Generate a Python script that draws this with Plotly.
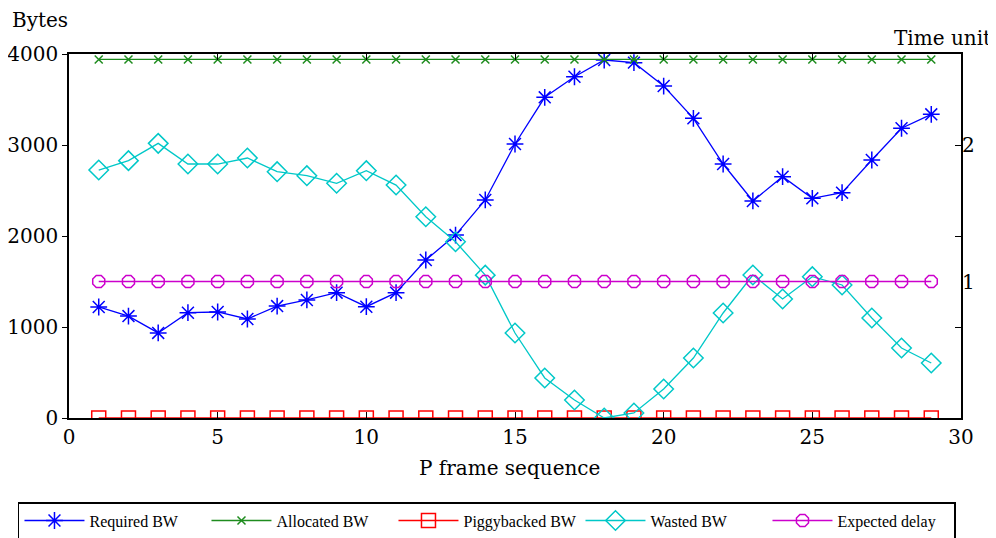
import plotly.graph_objects as go

frames = list(range(1, 30))
required_bw = [1220, 1120, 935, 1157, 1165, 1088, 1230, 1297, 1377, 1223, 1377, 1736, 2010,
               2396, 3011, 3524, 3750, 3934, 3905, 3648, 3293, 2791, 2385, 2652, 2414, 2476,
               2835, 3184, 3337]
allocated_bw = [3940] * 29
piggybacked_bw = [0] * 29
wasted_bw = [2725, 2828, 3018, 2791, 2791, 2857, 2707, 2663, 2579, 2718, 2560, 2212, 1937,
             1570, 934, 440, 198, 0, 55, 319, 659, 1154, 1571, 1308, 1553, 1462, 1099, 769, 604]
expected_delay = [1] * 29

x_ticks = [0, 5, 10, 15, 20, 25, 30]
y_ticks = [0, 1000, 2000, 3000, 4000]
y2_ticks = [1, 2]

SERIF = "DejaVu Serif"
LEG = "Liberation Serif"

fig = go.Figure()

def add(name, y, color, symbol, size, axis="y"):
    fig.add_trace(go.Scatter(
        x=frames, y=y, name=name, mode="lines+markers", yaxis=axis,
        line=dict(color=color, width=1.3),
        marker=dict(symbol=symbol, size=size, color=color, line=dict(color=color, width=1.5)),
    ))

add("Required BW", required_bw, "#0000FF", "asterisk-open", 14)
add("Allocated BW", allocated_bw, "#1E8C1E", "x-thin-open", 8)
add("Piggybacked BW", piggybacked_bw, "#FF0000", "square-open", 14)
add("Wasted BW", wasted_bw, "#00C8C8", "diamond-open", 15)
add("Expected delay", expected_delay, "#CC00CC", "octagon-open", 13, axis="y2")

# page body has an 8px margin, so the figure is shifted by 8px right/down
fig.update_layout(
    width=988, height=530,
    margin=dict(l=61, r=35, t=46, b=120, autoexpand=False),
    paper_bgcolor="white", plot_bgcolor="white",
    font=dict(family=SERIF, size=20, color="black"),
    xaxis=dict(range=[0, 30], tickvals=x_ticks, ticks="inside", ticklen=6, tickcolor="black",
               showline=True, linecolor="black", linewidth=1.5, mirror="ticks",
               showgrid=False, zeroline=False, tickfont=dict(family=SERIF, size=20)),
    yaxis=dict(range=[0, 4000], tickvals=y_ticks, ticks="outside", ticklen=5, tickcolor="black",
               showline=True, linecolor="black", linewidth=1.5, mirror=True,
               showgrid=False, zeroline=False, tickfont=dict(family=SERIF, size=20)),
    yaxis2=dict(range=[0, 8 / 3], overlaying="y", side="right", tickvals=y2_ticks,
                ticks="", showline=False, showgrid=False, zeroline=False,
                tickfont=dict(family=SERIF, size=20)),
    yaxis3=dict(range=[0, 4000], overlaying="y", side="right", tickvals=[1000, 2000, 3000],
                ticks="inside", ticklen=6, tickcolor="black", showticklabels=False,
                showline=False, showgrid=False, zeroline=False),
    showlegend=True,
    legend=dict(orientation="h", x=-0.0572, xanchor="left",
                y=-0.231, yanchor="top",
                bordercolor="black", borderwidth=1.5, font=dict(family=LEG, size=16),
                itemwidth=60, entrywidth=112, entrywidthmode="pixels", tracegroupgap=0),
    annotations=[
        dict(text="Bytes", xref="paper", yref="paper", x=-0.066, y=1.093,
             xanchor="left", yanchor="middle", showarrow=False, font=dict(family=SERIF, size=20)),
        dict(text="Time unit", xref="paper", yref="paper", x=1.036, y=1.044,
             xanchor="right", yanchor="middle", showarrow=False, font=dict(family=SERIF, size=20)),
        dict(text="P frame sequence", xref="paper", yref="paper", x=0.494, y=-0.137,
             xanchor="center", yanchor="middle", showarrow=False, font=dict(family=SERIF, size=20)),
    ],
)
# invisible trace to activate yaxis3 ticks
fig.add_trace(go.Scatter(x=[None], y=[None], yaxis="y3", showlegend=False, hoverinfo="skip"))

fig.write_html("out.html")
